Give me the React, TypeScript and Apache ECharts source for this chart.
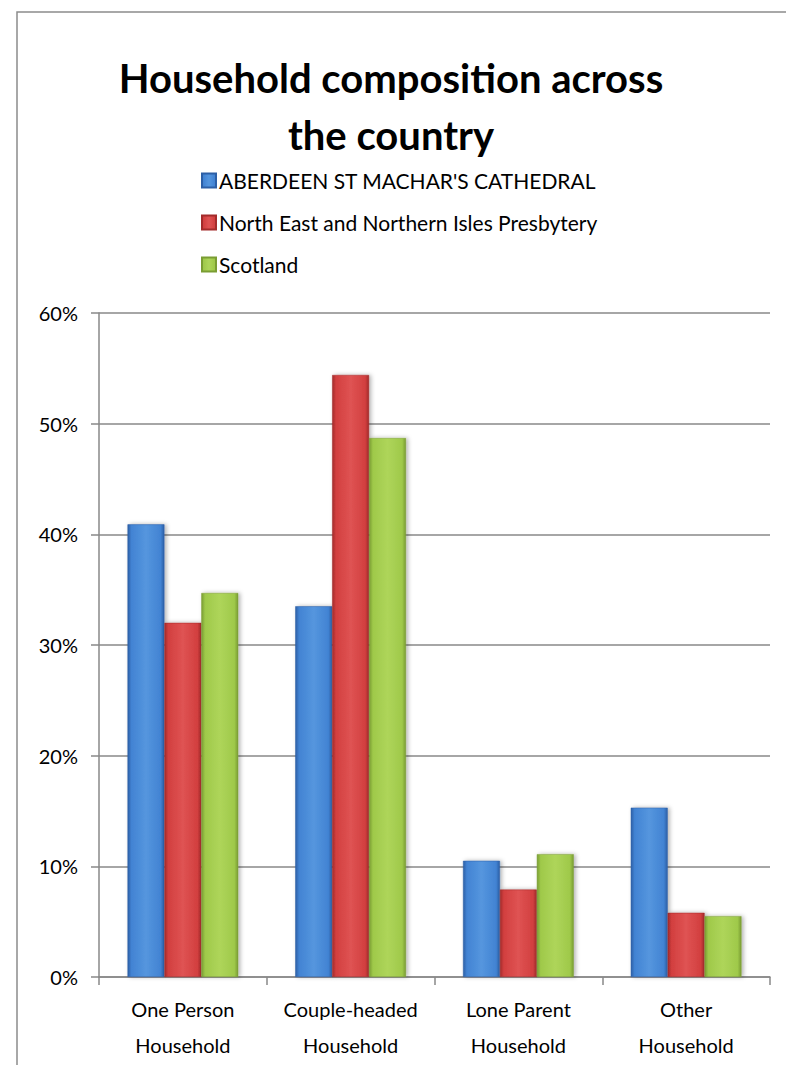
import React, { useEffect, useRef } from "react";
import * as echarts from "echarts";

const categories = ["One Person\nHousehold", "Couple-headed\nHousehold", "Lone Parent\nHousehold", "Other\nHousehold"];
const seriesNames = ["ABERDEEN ST MACHAR'S CATHEDRAL", "North East and Northern Isles Presbytery", "Scotland"];
const aberdeen = [40.9, 33.5, 10.5, 15.3];
const northEast = [32.0, 54.4, 7.9, 5.8];
const scotland = [34.7, 48.7, 11.1, 5.5];
const yTicks = [0, 10, 20, 30, 40, 50, 60];

const palettes = [
  { edge: "#2c5fa6", mid: "#4283d3", light: "#5596de" },
  { edge: "#a32b2b", mid: "#d23f3f", light: "#df5353" },
  { edge: "#7a9d33", mid: "#9fc94a", light: "#aed55a" },
];

const FONT = "Lato, 'Open Sans', sans-serif";

function grad(p: { edge: string; mid: string; light: string }) {
  return new echarts.graphic.LinearGradient(0, 0, 1, 0, [
    { offset: 0, color: p.edge },
    { offset: 0.1, color: p.mid },
    { offset: 0.5, color: p.light },
    { offset: 0.9, color: p.mid },
    { offset: 1, color: p.edge },
  ]);
}

export default function App() {
  const ref = useRef<HTMLDivElement>(null);
  useEffect(() => {
    if (!ref.current) return;
    const chart = echarts.init(ref.current, undefined, { renderer: "svg" });
    const data = [aberdeen, northEast, scotland];
    chart.setOption({
      animation: false,
      backgroundColor: "#ffffff",
      title: {
        text: "Household composition across\nthe country",
        left: 386,
        textAlign: "center",
        top: 44,
        textStyle: {
          fontFamily: FONT,
          fontWeight: "bold",
          fontSize: 40,
          lineHeight: 57,
          color: "#000",
        },
      },
      legend: {
        orient: "vertical",
        left: 196,
        top: 165,
        itemWidth: 14,
        itemHeight: 14,
        itemGap: 21,
        icon: "rect",
        data: seriesNames,
        textStyle: { fontFamily: FONT, fontSize: 21, color: "#000", padding: [0, 0, 0, -2] },
      },
      graphic: [
        {
          type: "polyline",
          shape: { points: [[17, 1065], [17, 12], [786, 12]] },
          style: { stroke: "#8c8c8c", lineWidth: 1.5, fill: "none" },
          silent: true,
        },
      ],
      grid: { left: 99, right: 16, top: 313, bottom: 88, containLabel: false },
      xAxis: {
        type: "category",
        data: categories,
        axisLine: { lineStyle: { color: "#888", width: 1.5 } },
        axisTick: { show: true, interval: 0, length: 8, lineStyle: { color: "#888", width: 1.5 } },
        axisLabel: { interval: 0, fontFamily: FONT, fontSize: 20, color: "#000", lineHeight: 36, margin: 14 },
      },
      yAxis: {
        type: "value",
        min: 0,
        max: 60,
        interval: 10,
        axisLine: { show: true, lineStyle: { color: "#888", width: 1.5 } },
        axisTick: { show: true, length: 8, lineStyle: { color: "#888", width: 1.5 } },
        splitLine: { lineStyle: { color: "#888", width: 1.5 } },
        axisLabel: {
          fontFamily: FONT,
          fontSize: 20,
          color: "#000",
          margin: 21,
          formatter: (v: number) => (yTicks.includes(v) ? v + "%" : ""),
        },
      },
      series: seriesNames.map((name, i) => ({
        name,
        type: "bar",
        data: data[i],
        barGap: "0%",
        barCategoryGap: "34%",
        itemStyle: {
          color: grad(palettes[i]),
          borderColor: palettes[i].edge,
          borderWidth: 0.5,
          shadowColor: "rgba(0,0,0,0.3)",
          shadowBlur: 4,
          shadowOffsetX: 2,
        },
      })),
    });
    return () => chart.dispose();
  }, []);
  return <div ref={ref} style={{ position: "absolute", left: 0, top: 0, width: 786, height: 1065 }} />;
}
